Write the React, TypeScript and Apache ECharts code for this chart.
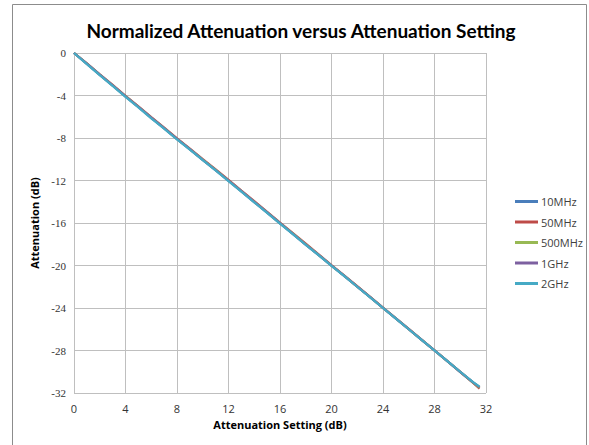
import React, { useEffect, useRef } from "react";
import * as echarts from "echarts";

const title = "Normalized Attenuation versus Attenuation Setting";
const xAxisName = "Attenuation Setting (dB)";
const yAxisName = "Attenuation (dB)";

const seriesNames = ["10MHz", "50MHz", "500MHz", "1GHz", "2GHz"];
const seriesColors = ["#4A7EBB", "#BE4B48", "#98B954", "#7D60A0", "#46AAC5"];

const settings = [0, 1, 2, 3, 4, 5, 6, 7, 8, 9, 10, 11, 12, 13, 14, 15, 16, 17, 18, 19, 20, 21, 22, 23, 24, 25, 26, 27, 28, 29, 30, 31, 31.5];

const mhz10 = [0, -1.02, -2.05, -3.06, -4.09, -5.08, -6.1, -7.09, -8.1, -9.06, -10.06, -11.03, -12.02, -13.02, -14.03, -15.02, -16.03, -17.03, -18.04, -19.02, -20.02, -20.99, -21.99, -22.98, -24.0, -24.99, -26.0, -27.0, -28.0, -29.01, -30.03, -31.02, -31.47];
const mhz50 = [0, -0.98, -2.0, -3.0, -4.04, -5.02, -6.04, -7.02, -8.03, -9.0, -9.99, -10.96, -11.95, -12.95, -13.94, -14.95, -15.97, -16.96, -17.95, -18.95, -19.97, -20.96, -21.95, -22.95, -23.97, -24.97, -25.97, -26.97, -27.98, -29.0, -30.02, -31.05, -31.58];
const mhz500 = [0, -1.0, -2.03, -3.04, -4.07, -5.06, -6.08, -7.07, -8.08, -9.04, -10.04, -11.01, -12.0, -13.0, -14.0, -15.0, -16.01, -17.01, -18.02, -19.0, -20.01, -20.98, -21.98, -22.97, -23.99, -24.98, -25.99, -26.99, -27.99, -29.0, -30.02, -31.02, -31.5];
const ghz1 = [0, -1.01, -2.04, -3.05, -4.08, -5.07, -6.09, -7.08, -8.09, -9.05, -10.05, -11.02, -12.01, -13.01, -14.02, -15.01, -16.02, -17.02, -18.03, -19.01, -20.01, -20.98, -21.98, -22.97, -23.99, -24.98, -25.99, -26.99, -27.99, -29.0, -30.01, -31.0, -31.45];
const ghz2 = [0, -1.04, -2.08, -3.09, -4.12, -5.12, -6.15, -7.12, -8.14, -9.09, -10.09, -11.05, -12.05, -13.04, -14.05, -15.04, -16.05, -17.05, -18.05, -19.03, -20.03, -21.0, -22.0, -22.99, -24.0, -24.99, -26.0, -26.99, -28.0, -29.0, -30.0, -30.98, -31.4];

const allValues = [mhz10, mhz50, mhz500, ghz1, ghz2];

export default function App() {
  const ref = useRef<HTMLDivElement>(null);

  useEffect(() => {
    if (!ref.current) return;
    const chart = echarts.init(ref.current, undefined, { renderer: "svg" });
    const gridColor = "#bfbfbf";
    chart.setOption({
      animation: false,
      backgroundColor: "#ffffff",
      grid: { left: 74, right: 103, top: 53, bottom: 52, containLabel: false },
      graphic: [
        {
          type: "rect",
          shape: { x: 12.5, y: 4.5, width: 574, height: 470 },
          style: { fill: "none", stroke: "#8c8c8c", lineWidth: 1 },
          silent: true,
        },
        {
          type: "text",
          x: 301,
          y: 30,
          style: {
            text: title,
            fill: "#000000",
            font: "bold 19px Lato, 'Open Sans', sans-serif",
            textAlign: "center",
            textVerticalAlign: "middle",
          },
        },
      ],
      legend: {
        orient: "vertical",
        left: 510,
        top: 191,
        itemWidth: 23,
        itemHeight: 3,
        itemGap: 9.5,
        icon: "rect",
        data: seriesNames,
        textStyle: { fontSize: 11, color: "#404040", fontFamily: "'Open Sans', sans-serif", padding: [0, 0, 0, -2] },
      },
      xAxis: {
        type: "value",
        min: 0,
        max: 32,
        interval: 4,
        name: xAxisName,
        nameLocation: "middle",
        nameGap: 26,
        nameTextStyle: { fontSize: 11, fontWeight: "bold", color: "#000000", fontFamily: "'Open Sans', sans-serif" },
        axisLine: { show: true, lineStyle: { color: gridColor, width: 1 } },
        axisTick: { show: false },
        axisLabel: { fontSize: 11, color: "#333333", margin: 10, fontFamily: "'Open Sans', sans-serif" },
        splitLine: { show: true, lineStyle: { color: gridColor, width: 1 } },
      },
      yAxis: {
        type: "value",
        min: -32,
        max: 0,
        interval: 4,
        name: yAxisName,
        nameLocation: "middle",
        nameGap: 30,
        nameRotate: 90,
        nameTextStyle: { fontSize: 11, fontWeight: "bold", color: "#000000", fontFamily: "'Open Sans', sans-serif" },
        axisLine: { show: true, onZero: false, lineStyle: { color: gridColor, width: 1 } },
        axisTick: { show: false },
        axisLabel: { fontSize: 11, color: "#333333", margin: 8, fontFamily: "'Liberation Serif', serif" },
        splitLine: { show: true, lineStyle: { color: gridColor, width: 1 } },
      },
      series: seriesNames.map((name, i) => ({
        name,
        type: "line",
        data: settings.map((s, j) => [s, allValues[i][j]]),
        symbol: "none",
        showSymbol: false,
        lineStyle: { color: seriesColors[i], width: 2.25 },
        itemStyle: { color: seriesColors[i] },
        z: 2 + i,
      })),
    });
    return () => chart.dispose();
  }, []);

  return (
    <div
      ref={ref}
      style={{ position: "fixed", left: 0, top: 0, width: 589, height: 445, background: "#fff" }}
    />
  );
}
